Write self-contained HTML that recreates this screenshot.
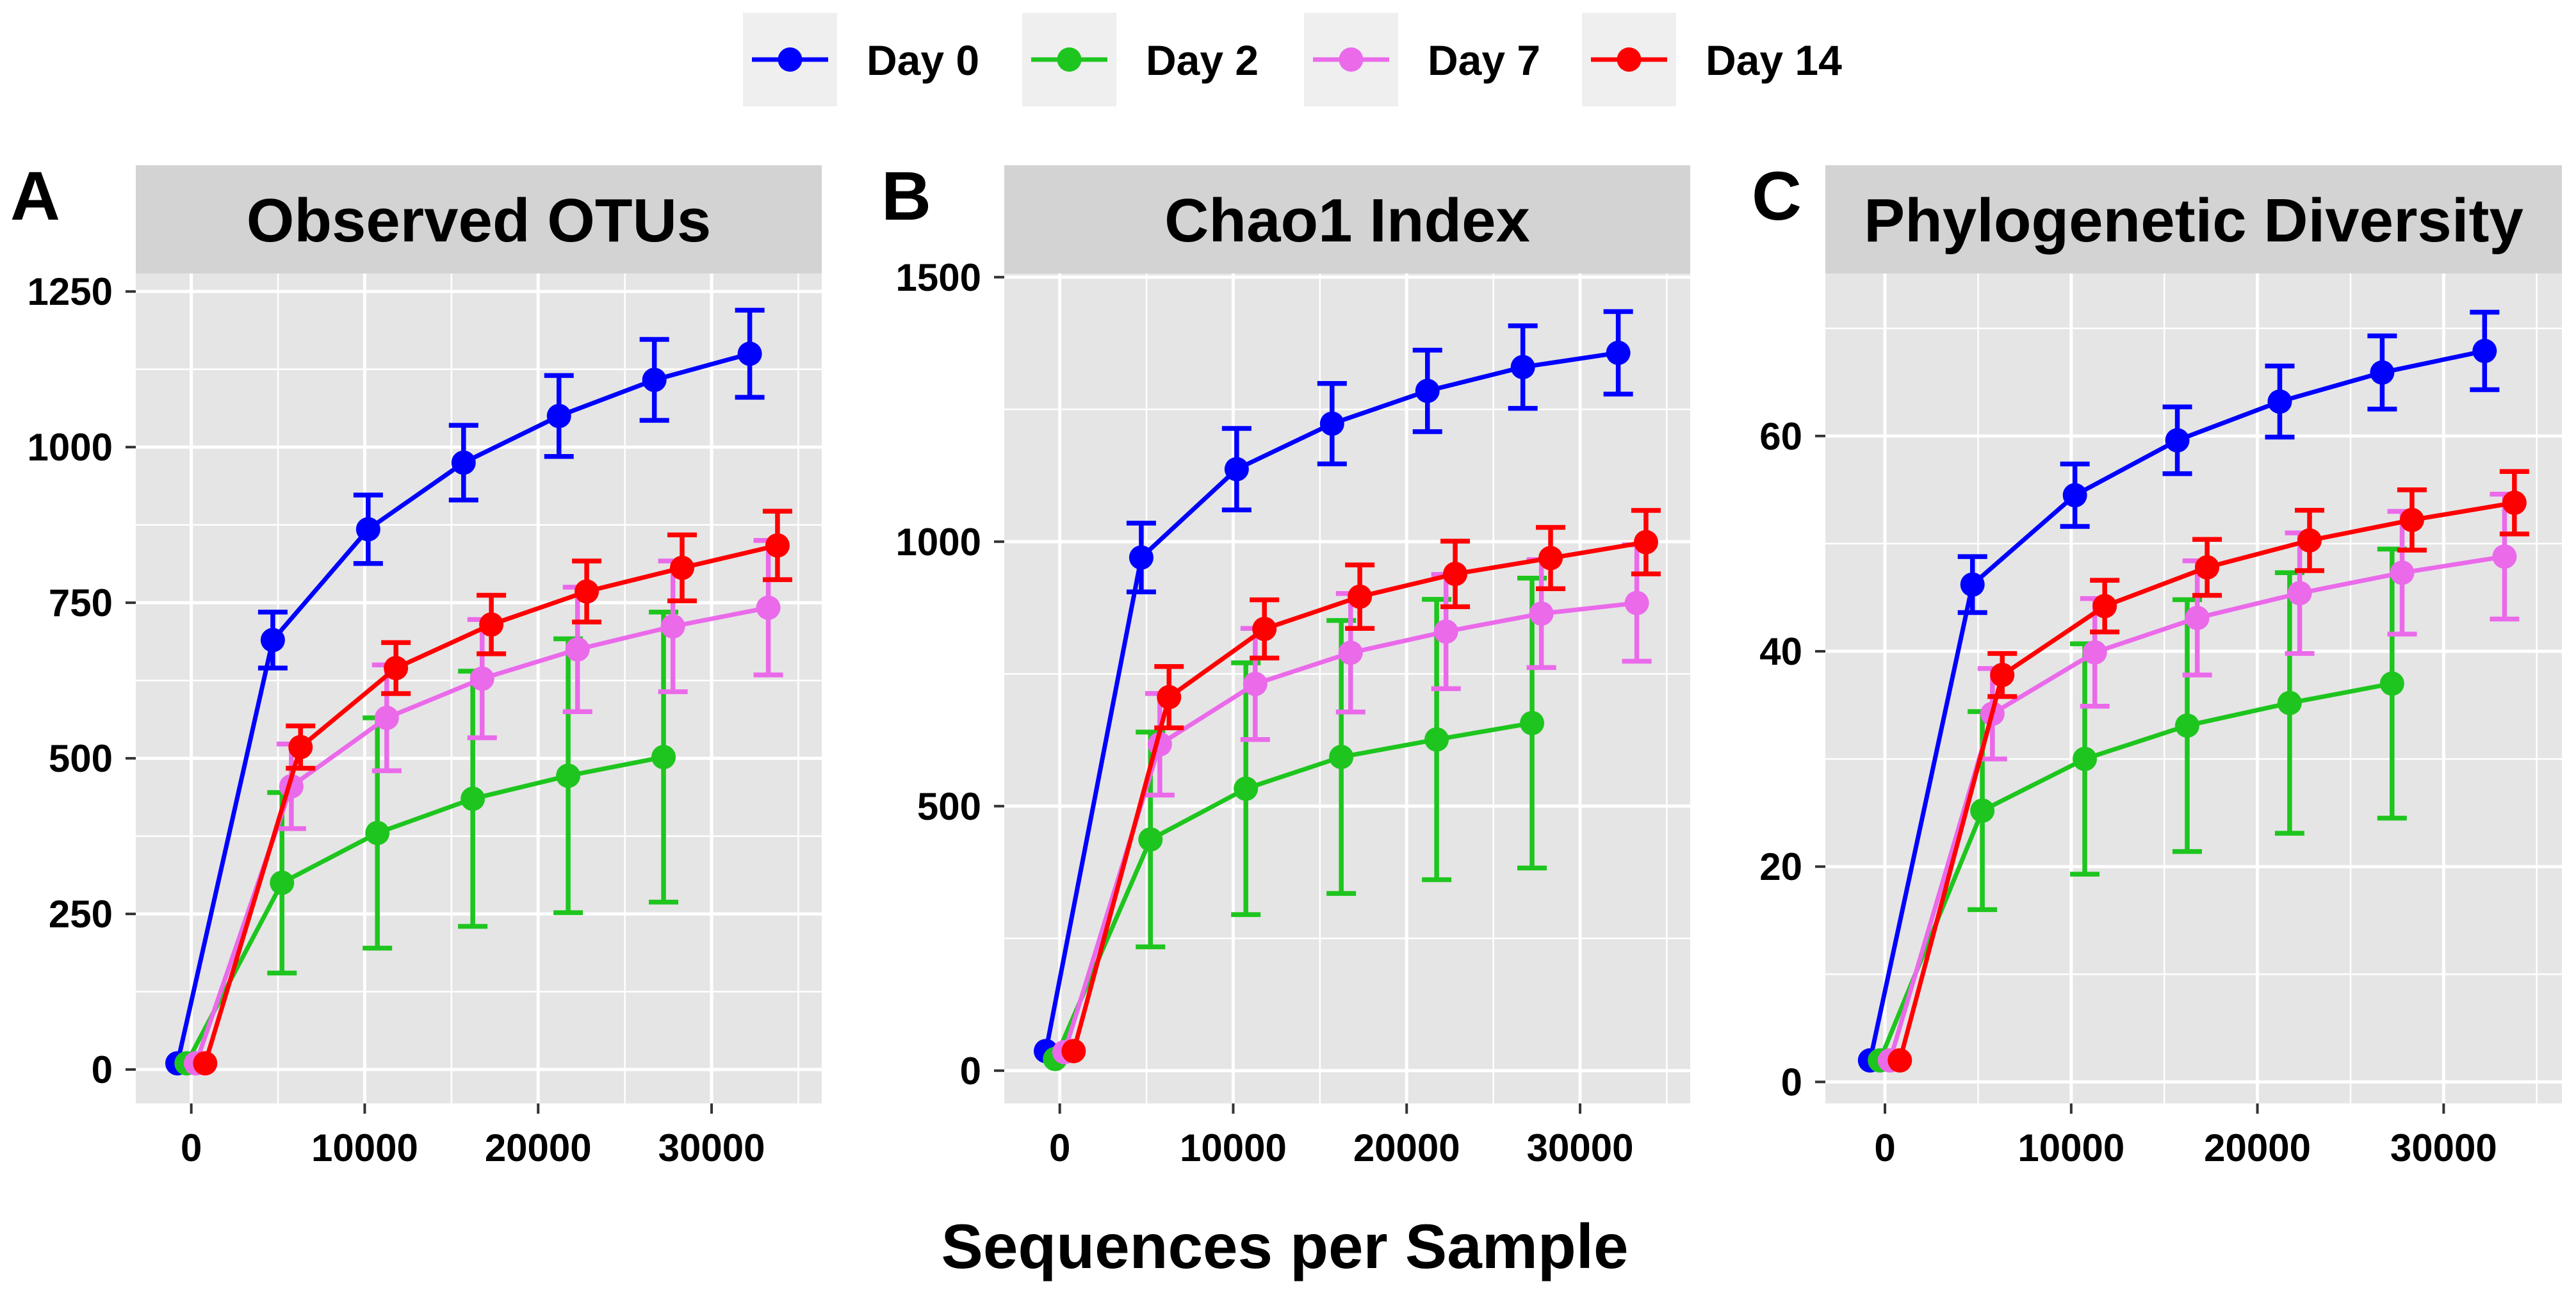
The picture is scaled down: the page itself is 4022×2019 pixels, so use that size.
<!DOCTYPE html>
<html><head><meta charset="utf-8"><style>
html,body{margin:0;padding:0;background:#fff}
svg{display:block}
text{font-family:"Liberation Sans",Arial,sans-serif;font-weight:bold;fill:#000}
</style></head><body>
<svg id="fig" width="4022" height="2019" viewBox="0 0 4022 2019" xmlns="http://www.w3.org/2000/svg">
<g id="legend"></g>
<g id="panels"></g>
<text x="2006" y="1980" font-size="98" text-anchor="middle">Sequences per Sample</text>
</svg>
<script>
// ---- data ----
const seriesNames = ["Day 0","Day 2","Day 7","Day 14"];
const seriesColors = ["#0000ff","#1ec51e","#ea6aea","#ff0000"];
const depths = [0,5500,11000,16500,22000,27500,33000];
const dodge = [-800,-270,270,800];
const xTicks = [0,10000,20000,30000];
const xTickLabels = ["0","10000","20000","30000"];

// Panel A: Observed OTUs
const otuMean = [
  [10,690,868,975,1050,1108,1150],
  [10,300,380,435,472,502],
  [10,455,565,628,675,712,742],
  [10,518,645,715,768,806,842]];
const otuErr = [
  [0,45,55,60,65,65,70],
  [0,145,185,205,220,233],
  [0,68,85,95,100,105,108],
  [0,34,41,47,49,53,55]];
const otuTicks = [0,250,500,750,1000,1250];
const otuTickLabels = ["0","250","500","750","1000","1250"];

// Panel B: Chao1
const chaoMean = [
  [37,970,1137,1223,1285,1330,1357],
  [22,437,533,593,626,657],
  [35,617,731,790,830,864,884],
  [37,706,835,896,939,969,999]];
const chaoErr = [
  [0,65,77,76,77,78,78],
  [0,203,238,258,265,274],
  [0,96,105,112,108,102,110],
  [0,58,55,60,62,58,60]];
const chaoTicks = [0,500,1000,1500];
const chaoTickLabels = ["0","500","1000","1500"];

// Panel C: Phylogenetic Diversity
const pdMean = [
  [2,46.2,54.5,59.6,63.2,65.9,67.9],
  [2,25.2,30,33.1,35.2,37],
  [2,34.2,39.9,43.1,45.4,47.3,48.8],
  [2,37.8,44.2,47.8,50.3,52.2,53.8]];
const pdErr = [
  [0,2.6,2.9,3.1,3.3,3.4,3.6],
  [0,9.2,10.7,11.7,12.1,12.5],
  [0,4.2,5,5.3,5.6,5.7,5.8],
  [0,2,2.4,2.6,2.8,2.8,2.9]];
const pdTicks = [0,20,40,60];
const pdTickLabels = ["0","20","40","60"];

// ---- layout ----
const NS="http://www.w3.org/2000/svg";
function mk(tag,attrs,parent){const e=document.createElementNS(NS,tag);for(const k in attrs)e.setAttribute(k,attrs[k]);parent.appendChild(e);return e;}
const X0=-3200, X1=36350, TOP=427, BOT=1723;
const panels=[
 {letter:"A",letterX:16,title:"Observed OTUs",left:212,right:1283,ymin:-54.5,ymax:1279,mean:otuMean,err:otuErr,ticks:otuTicks,labels:otuTickLabels,minor:[125,375,625,875,1125]},
 {letter:"B",letterX:1376,title:"Chao1 Index",left:1568,right:2639,ymin:-62,ymax:1507,mean:chaoMean,err:chaoErr,ticks:chaoTicks,labels:chaoTickLabels,minor:[250,750,1250]},
 {letter:"C",letterX:2735,title:"Phylogenetic Diversity",left:2850,right:4000,ymin:-2,ymax:75.1,mean:pdMean,err:pdErr,ticks:pdTicks,labels:pdTickLabels,minor:[10,30,50,70]}
];
const root=document.getElementById('panels');
panels.forEach((p,pi)=>{
  const g=mk('g',{},root);
  
  
  const sx=v=>p.left+(v-X0)/(X1-X0)*(p.right-p.left);
  const sy=v=>BOT-(v-p.ymin)/(p.ymax-p.ymin)*(BOT-TOP);
  const bg=mk('rect',{x:p.left,y:TOP,width:p.right-p.left,height:BOT-TOP,fill:'#e5e5e5'},g);
  
  
  const strip=mk('rect',{x:p.left,y:258,width:p.right-p.left,height:169,fill:'#d3d3d3'},g);
  
  
  const st=mk('text',{x:(p.left+p.right)/2,y:377,'font-size':96,'text-anchor':'middle',fill:'#1a1a1a'},g);
  st.textContent=p.title;
  
  
  const lt=mk('text',{x:p.letterX,y:343,'font-size':108},g);
  lt.textContent=p.letter;
  
  
  // grid
  [5000,15000,25000,35000].forEach(v=>mk('line',{x1:sx(v),x2:sx(v),y1:TOP,y2:BOT,stroke:'#fff','stroke-width':2.5},g));
  p.minor.forEach(v=>{if(sy(v)>TOP)mk('line',{x1:p.left,x2:p.right,y1:sy(v),y2:sy(v),stroke:'#fff','stroke-width':2.5},g);});
  xTicks.forEach((v,i)=>{
    mk('line',{x1:sx(v),x2:sx(v),y1:TOP,y2:BOT,stroke:'#fff','stroke-width':5},g);
    mk('line',{x1:sx(v),x2:sx(v),y1:BOT,y2:BOT+16,stroke:'#333','stroke-width':4},g);
    const t=mk('text',{x:sx(v),y:1813,'font-size':60,'text-anchor':'middle',fill:'#222'},g);
    t.textContent=xTickLabels[i];
    
    
  });
  p.ticks.forEach((v,i)=>{
    mk('line',{x1:p.left,x2:p.right,y1:sy(v),y2:sy(v),stroke:'#fff','stroke-width':5},g);
    mk('line',{x1:p.left-16,x2:p.left,y1:sy(v),y2:sy(v),stroke:'#333','stroke-width':4},g);
    const t=mk('text',{x:p.left-36,y:sy(v)+21,'font-size':60,'text-anchor':'end',fill:'#222'},g);
    t.textContent=p.labels[i];
    
    
  });
  // series
  p.mean.forEach((arr,si)=>{
    const sg=mk('g',{},g);
    
    
    const c=seriesColors[si];
    const pts=arr.map((v,k)=>[sx(depths[k]+dodge[si]),sy(v)]);
    const pl=mk('polyline',{points:pts.map(q=>q.join(',')).join(' '),fill:'none',stroke:c,'stroke-width':7},sg);
    
    
    arr.forEach((v,k)=>{
      const e=p.err[si][k];
      const x=sx(depths[k]+dodge[si]);
      if(e>0){
        const eg=mk('path',{d:`M${x},${sy(v+e)}V${sy(v-e)}M${x-23},${sy(v+e)}H${x+23}M${x-23},${sy(v-e)}H${x+23}`,stroke:c,'stroke-width':7.5,fill:'none'},sg);
        
        
      }
      const pt=mk('circle',{cx:x,cy:sy(v),r:19,fill:c},sg);
      
      
    });
  });
});
// legend
const lg=document.getElementById('legend');
const keyX=[1160,1596,2036,2470];
seriesNames.forEach((n,i)=>{
  const eg=mk('g',{},lg);
  
  
  mk('rect',{x:keyX[i],y:20,width:147,height:146,fill:'#efefef'},eg);
  mk('line',{x1:keyX[i]+14,x2:keyX[i]+133,y1:93,y2:93,stroke:seriesColors[i],'stroke-width':7},eg);
  mk('circle',{cx:keyX[i]+73.5,cy:93,r:19,fill:seriesColors[i]},eg);
  const t=mk('text',{x:keyX[i]+193,y:117,'font-size':66},eg);
  t.textContent=n;
});
</script>
</body></html>
